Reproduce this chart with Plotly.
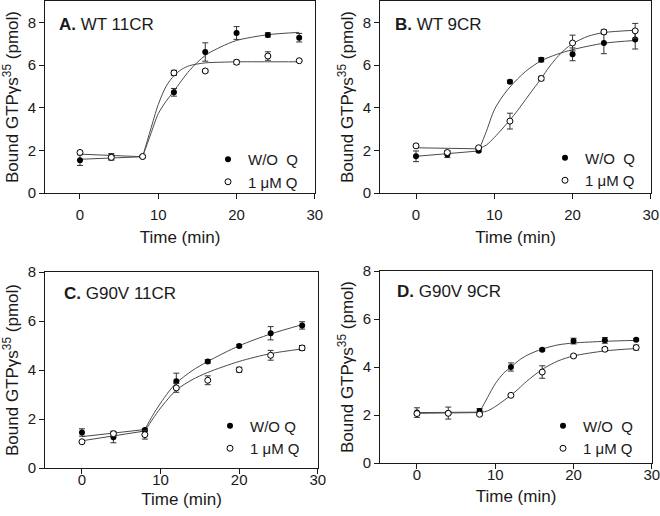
import plotly.graph_objects as go

# ---------------- data ----------------
time_min = [0, 4, 8, 12, 16, 20, 24, 28]

# Panel A: WT 11CR
a_wo_y = [1.54, 1.70, 1.71, 4.72, 6.61, 7.50, 7.41, 7.28]
a_wo_err = [0.25, 0.15, 0.05, 0.18, 0.43, 0.30, 0.10, 0.20]
a_q_y = [1.90, 1.67, 1.71, 5.63, 5.72, 6.13, 6.42, 6.20]
a_q_err = [0.06, 0.12, 0.05, 0.12, 0.07, 0.10, 0.20, 0.03]
a_wo_fit_x = [0, 8, 9, 10, 11, 12, 14, 16, 18, 20, 24, 28]
a_wo_fit_y = [1.58, 1.70, 2.72, 3.72, 4.30, 4.78, 5.75, 6.45, 6.85, 7.15, 7.42, 7.53]
a_q_fit_x = [0, 8, 9, 10, 11, 12, 13, 14, 16, 18, 20, 24, 28]
a_q_fit_y = [1.82, 1.70, 2.95, 4.15, 5.00, 5.50, 5.80, 5.97, 6.10, 6.13, 6.15, 6.15, 6.15]

# Panel B: WT 9CR
b_wo_y = [1.72, 1.81, 1.98, 5.22, 6.25, 6.50, 7.03, 7.20]
b_wo_err = [0.25, 0.15, 0.05, 0.07, 0.10, 0.30, 0.50, 0.45]
b_q_y = [2.21, 1.90, 2.12, 3.37, 5.37, 7.03, 7.55, 7.60]
b_q_err = [0.08, 0.08, 0.05, 0.37, 0.10, 0.37, 0.10, 0.35]
b_wo_fit_x = [0, 8, 9, 10, 11, 12, 14, 16, 18, 20, 24, 28]
b_wo_fit_y = [1.72, 1.97, 2.90, 3.90, 4.50, 4.97, 5.70, 6.20, 6.50, 6.72, 7.02, 7.15]
b_q_fit_x = [0, 8, 9, 10, 11, 12, 13, 14, 15, 16, 17, 18, 19, 20, 22, 24, 28]
b_q_fit_y = [2.12, 2.07, 2.25, 2.60, 3.00, 3.42, 3.88, 4.38, 4.88, 5.37, 5.90, 6.35, 6.72, 7.00, 7.35, 7.52, 7.63]

# Panel C: G90V 11CR
c_wo_y = [1.45, 1.25, 1.55, 3.54, 4.35, 4.98, 5.50, 5.82]
c_wo_err = [0.15, 0.22, 0.05, 0.33, 0.07, 0.05, 0.27, 0.15]
c_q_y = [1.07, 1.40, 1.36, 3.27, 3.58, 4.01, 4.60, 4.90]
c_q_err = [0.05, 0.10, 0.18, 0.18, 0.18, 0.10, 0.20, 0.10]
c_wo_fit_x = [0, 8, 9, 10, 11, 12, 14, 16, 20, 24, 28]
c_wo_fit_y = [1.28, 1.57, 2.15, 2.65, 3.10, 3.47, 3.97, 4.35, 4.99, 5.47, 5.85]
c_q_fit_x = [0, 8, 9, 10, 12, 14, 16, 20, 24, 28]
c_q_fit_y = [1.11, 1.51, 2.00, 2.45, 3.18, 3.60, 3.90, 4.35, 4.67, 4.86]

# Panel D: G90V 9CR
d_wo_y = [2.10, 2.08, 2.17, 4.00, 4.72, 5.08, 5.11, 5.14]
d_wo_err = [0.20, 0.25, 0.10, 0.17, 0.05, 0.12, 0.12, 0.05]
d_q_y = [2.06, 2.07, 2.03, 2.82, 3.79, 4.46, 4.74, 4.81]
d_q_err = [0.05, 0.05, 0.05, 0.05, 0.26, 0.05, 0.07, 0.10]
d_wo_fit_x = [0, 8, 9, 10, 11, 12, 13, 14, 16, 18, 20, 24, 28]
d_wo_fit_y = [2.10, 2.12, 2.72, 3.30, 3.72, 4.00, 4.27, 4.48, 4.75, 4.92, 5.00, 5.07, 5.11]
d_q_fit_x = [0, 8, 9, 10, 11, 12, 13, 14, 16, 18, 20, 24, 28]
d_q_fit_y = [2.07, 2.10, 2.17, 2.35, 2.58, 2.82, 3.10, 3.40, 3.90, 4.25, 4.46, 4.67, 4.77]

panel_labels = ["<b>A.</b> WT 11CR", "<b>B.</b> WT 9CR", "<b>C.</b> G90V 11CR", "<b>D.</b> G90V 9CR"]
legend_wo_names = ["W/O  Q", "W/O  Q", "W/O Q", "W/O  Q"]
legend_q_name = "1 μM Q"
x_ticks = [0, 10, 20, 30]
y_ticks = [0, 2, 4, 6, 8]

# ---------------- figure ----------------
W, H = 660, 516
FONT = "Arial, 'Liberation Sans', sans-serif"
INK = "#1a1a1a"
LINE = "#4a4a4a"

def px_x(p):
    return p / W

def px_y(p):
    return 1 - p / H

# plot boxes in pixels: (left, right, top, bottom), x-range, y-range,
# x tick-label standoff, x title standoff
boxes = [
    (45, 315, 1, 193, [-4.47, 30.02], [0, 9], 3, 9),
    (380, 651, 1, 193, [-4.6, 30.02], [0, 9], 3, 9),
    (45, 318, 272, 468, [-4.7, 30.02], [0, 8], -7, 6),
    (380, 652, 271, 463, [-4.72, 30.02], [0, 8], -7, 8),
]
label_pos = [(57, 25), (393, 25), (62, 293), (395, 291)]
legend_pos = [(208, 170.5), (545, 169), (210, 437), (543, 437)]

data_sets = [
    (a_wo_y, a_wo_err, a_q_y, a_q_err, a_wo_fit_x, a_wo_fit_y, a_q_fit_x, a_q_fit_y),
    (b_wo_y, b_wo_err, b_q_y, b_q_err, b_wo_fit_x, b_wo_fit_y, b_q_fit_x, b_q_fit_y),
    (c_wo_y, c_wo_err, c_q_y, c_q_err, c_wo_fit_x, c_wo_fit_y, c_q_fit_x, c_q_fit_y),
    (d_wo_y, d_wo_err, d_q_y, d_q_err, d_wo_fit_x, d_wo_fit_y, d_q_fit_x, d_q_fit_y),
]

fig = go.Figure()
layout = dict(
    width=W, height=H,
    margin=dict(l=0, r=0, t=0, b=0),
    paper_bgcolor="white", plot_bgcolor="white",
    font=dict(family=FONT, color=INK, size=15),
    showlegend=True,
)
annotations = []

for i, (ds, box) in enumerate(zip(data_sets, boxes)):
    n = i + 1
    xa = "x" if n == 1 else f"x{n}"
    ya = "y" if n == 1 else f"y{n}"
    leg = "legend" if n == 1 else f"legend{n}"
    wo_y, wo_err, q_y, q_err, wfx, wfy, qfx, qfy = ds
    left, right, top, bottom, xr, yr, xlab_off, xtitle_off = box

    # fitted curves: linear baseline then smooth rise
    for fx, fy in ((wfx, wfy), (qfx, qfy)):
        fig.add_trace(go.Scatter(x=fx[:2], y=fy[:2], mode="lines",
                                 line=dict(color=LINE, width=1),
                                 showlegend=False, hoverinfo="skip",
                                 xaxis=xa, yaxis=ya))
        fig.add_trace(go.Scatter(x=fx[1:], y=fy[1:], mode="lines",
                                 line=dict(color=LINE, width=1, shape="spline", smoothing=0.8),
                                 showlegend=False, hoverinfo="skip",
                                 xaxis=xa, yaxis=ya))

    fig.add_trace(go.Scatter(
        x=time_min, y=wo_y, mode="markers", name=legend_wo_names[i],
        marker=dict(symbol="circle", size=6, color="black", line=dict(width=0)),
        error_y=dict(type="data", array=wo_err, visible=True, color="#333333", thickness=1, width=3),
        xaxis=xa, yaxis=ya, legend=leg))
    fig.add_trace(go.Scatter(
        x=time_min, y=q_y, mode="markers", name=legend_q_name,
        marker=dict(symbol="circle", size=6, color="white", line=dict(width=1, color="black")),
        error_y=dict(type="data", array=q_err, visible=True, color="#333333", thickness=1, width=3),
        xaxis=xa, yaxis=ya, legend=leg))

    axis_common = dict(showline=True, linecolor=INK, linewidth=1, mirror=True,
                       ticks="outside", ticklen=5, tickwidth=1, tickcolor=INK,
                       showgrid=False, zeroline=False, automargin=False,
                       tickfont=dict(size=15, family=FONT, color=INK))
    layout["xaxis" if n == 1 else f"xaxis{n}"] = dict(
        axis_common, domain=[px_x(left), px_x(right)], range=xr, tickvals=x_ticks,
        ticklabelstandoff=xlab_off, ticklabeloverflow="allow",
        anchor=ya, title=dict(text="Time (min)", font=dict(size=17), standoff=xtitle_off))
    layout["yaxis" if n == 1 else f"yaxis{n}"] = dict(
        axis_common, domain=[px_y(bottom), px_y(top)], range=yr, tickvals=y_ticks,
        anchor=xa, title=dict(text="Bound GTPγs<sup>35</sup> (pmol)", font=dict(size=17), standoff=4))

    lx, ly = legend_pos[i]
    layout[leg] = dict(x=px_x(lx), y=px_y(ly), xanchor="left", yanchor="middle",
                       bgcolor="rgba(0,0,0,0)", borderwidth=0,
                       font=dict(size=15, family=FONT, color=INK),
                       itemclick=False, itemdoubleclick=False)

    tx, ty = label_pos[i]
    annotations.append(dict(text=panel_labels[i], x=px_x(tx), y=px_y(ty),
                            xref="paper", yref="paper", xanchor="left", yanchor="middle",
                            showarrow=False, font=dict(size=17, family=FONT, color=INK)))

layout["annotations"] = annotations
fig.update_layout(**layout)
fig.write_html("out.html", config={"displayModeBar": False},
               post_script="document.body.style.margin='0';")
